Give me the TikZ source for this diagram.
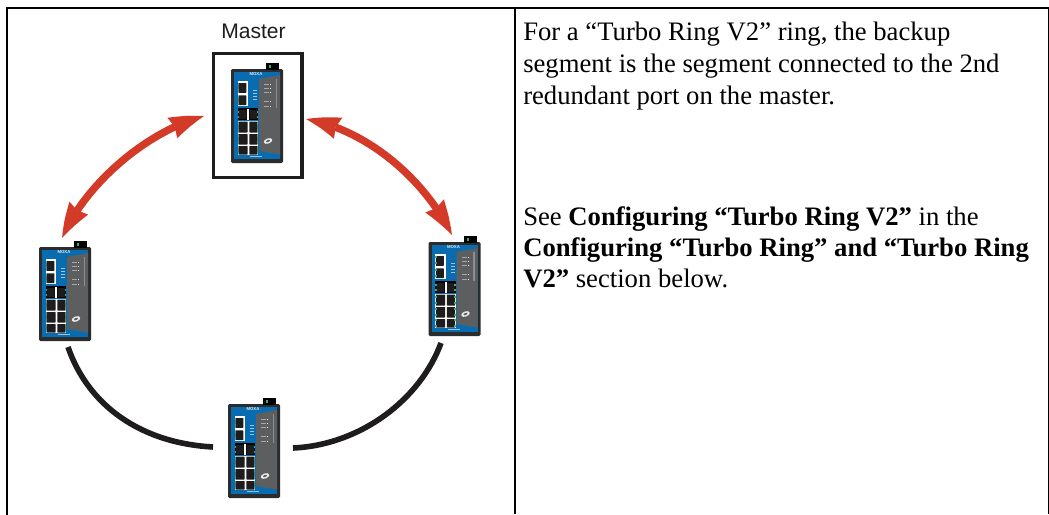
\documentclass[tikz,border=0pt]{standalone}
\usepackage{fontspec}
\setmainfont{Liberation Serif}
\newfontfamily\arialfont{Liberation Sans}
\usetikzlibrary{arrows.meta,bending}
\definecolor{moxablue}{HTML}{0A6CB0}
\definecolor{moxagrey}{HTML}{5C5E60}
\definecolor{moxadark}{HTML}{2B2C2E}
\definecolor{moxagreen}{HTML}{3FA877}
\definecolor{ringred}{HTML}{D33A28}
\definecolor{ringblack}{HTML}{1F1C1D}
\tikzset{
  x=0.75pt,y=-0.75pt,
  rule/.style={draw=black,line width=1.9pt},
  ringarrow/.style={draw=ringred,line width=5.6pt,
    {Stealth[length=25pt,width=17pt,inset=2pt,bend,line width=0pt]}-{Stealth[length=25pt,width=17pt,inset=2pt,bend,line width=0pt]}},
  ringcable/.style={draw=ringblack,line width=4.2pt},
  bodytext/.style={font=\fontsize{20pt}{23.6pt}\selectfont,align=left,anchor=north west,inner sep=0pt},
  port/.style={fill=ringblack,rounded corners=0.4pt},
  tick/.style={fill=moxagreen},
  moxa/.pic={
    \fill[moxadark,rounded corners=1pt] (0,0) rectangle (52,94);
    \fill[black] (35,-6.5) rectangle (48,0.5);
    \fill[moxagreen] (38,-4) rectangle (40,-1.5);
    \fill[moxablue] (3.3,2.5) rectangle (49,90);
    \fill[moxagrey] (28,10) -- (49,6) -- (49,85.5) -- (28,82) -- cycle;
    \node[font=\arialfont\bfseries\fontsize{3.2pt}{4pt}\selectfont,text=white!85!moxablue,inner sep=0pt] at (25,5.2) {MOXA};
    % upper ports
    \fill[white] (6.7,12) rectangle (17,37);
    \fill[port] (7.3,14) rectangle (15.3,23.8);
    \fill[port] (7.3,26.3) rectangle (15.3,36);
    % middle ports
    \fill[black] (6.7,39) rectangle (27.3,51);
    \fill[white] (16,40) rectangle (18,50.5);
    \fill[port] (8,41) rectangle (15.5,50);
    \fill[port] (18.5,41) rectangle (26,50);
    % lower ports
    \fill[white] (6.7,51.5) rectangle (27.3,86);
    \foreach \py/\ph in {52.5/11,65/10.5,77/8.5}{
      \fill[port] (7.3,\py) rectangle (16.7,\py+\ph);
      \fill[port] (18.3,\py) rectangle (26.7,\py+\ph);
    }
    \foreach \py in {14,20,27,33,42,47,54,60,66,72,77,83}{
      \fill[tick] (6.5,\py) rectangle (8,\py+2);
    }
    \foreach \py in {42,47,54,60,66,72,77,83}{
      \fill[tick] (25.8,\py) rectangle (27.3,\py+2);
    }
    % status LEDs
    \foreach \py in {21,24,27,30}{\fill[white!60!moxablue] (22,\py) rectangle (26,\py+0.8);}
    \foreach \py in {15,19,23,32,37}{
      \fill[white!45!moxagrey] (33,\py) rectangle (38,\py+0.8);
      \fill[white] (39,\py-0.2) rectangle (40.2,\py+1);
    }
    \fill[white!30!moxagrey] (44.5,10) rectangle (46,39);
    % logo
    \fill[white!85!moxagrey,rotate around={20:(37,72)}] (37,72) ellipse (4.5 and 2.6);
    \fill[moxagrey,rotate around={20:(37,72)}] (37,72) ellipse (2 and 1);
    % footer
    \fill[white!60!moxablue] (19,87.3) rectangle (31,88.3);
  },
}
\begin{document}
\begin{tikzpicture}
\useasboundingbox (0,0) rectangle (1049,514);
\fill[white] (0,0) rectangle (1049,514);
% table rules
\coordinate (tl) at (7.2,8);
\coordinate (tr) at (1048.3,8);
\coordinate (bl) at (7.2,514);
\coordinate (br) at (1048.3,514);
\coordinate (mt) at (514.8,8);
\coordinate (mb) at (514.8,514);
\draw[rule,line cap=rect] (bl) -- (tl) -- (tr);
\draw[draw=black,line width=1.1pt] (tr) -- (br);
\draw[rule] (mt) -- (mb);
% master
\node[font=\arialfont\fontsize{15.8pt}{18pt}\selectfont,text=ringblack,inner sep=0pt,anchor=base] (masterlabel) at (253.5,38.5) {Master};
\node[draw=ringblack,line width=2.3pt,minimum width=66.7pt,minimum height=93pt,inner sep=0pt,anchor=north west] (masterbox) at (211.5,51.5) {};
\pic at (231,69) {moxa};
\pic at (428.5,242) {moxa};
\pic at (39,247) {moxa};
\pic at (228,404) {moxa};
% ring
\coordinate (mleft) at (204,116);
\coordinate (lefttop) at (62,238);
\coordinate (mright) at (306,119);
\coordinate (righttop) at (452,235);
\coordinate (leftbot) at (68,347);
\coordinate (botleft) at (213,447);
\coordinate (botright) at (293,448);
\coordinate (rightbot) at (441,343);
\draw[ringarrow] (mleft) .. controls (145,132) and (85,185) .. (lefttop);
\draw[ringarrow] (mright) .. controls (368,130) and (425,180) .. (righttop);
\draw[ringcable] (leftbot) .. controls (88,405) and (140,443) .. (botleft);
\draw[ringcable] (botright) .. controls (360,445) and (420,400) .. (rightbot);
% text
\node[bodytext,font=\fontsize{20pt}{24pt}\selectfont] (para1) at (523,22) {For a “Turbo Ring V2” ring, the backup\\segment is the segment connected to the 2nd\\redundant port on the master.};
\node[bodytext] (para2) at (523,206) {See \textbf{Configuring “Turbo Ring V2”} in the\\\textbf{Configuring “Turbo Ring” and “Turbo Ring}\\\textbf{V2”} section below.};
\end{tikzpicture}
\end{document}
